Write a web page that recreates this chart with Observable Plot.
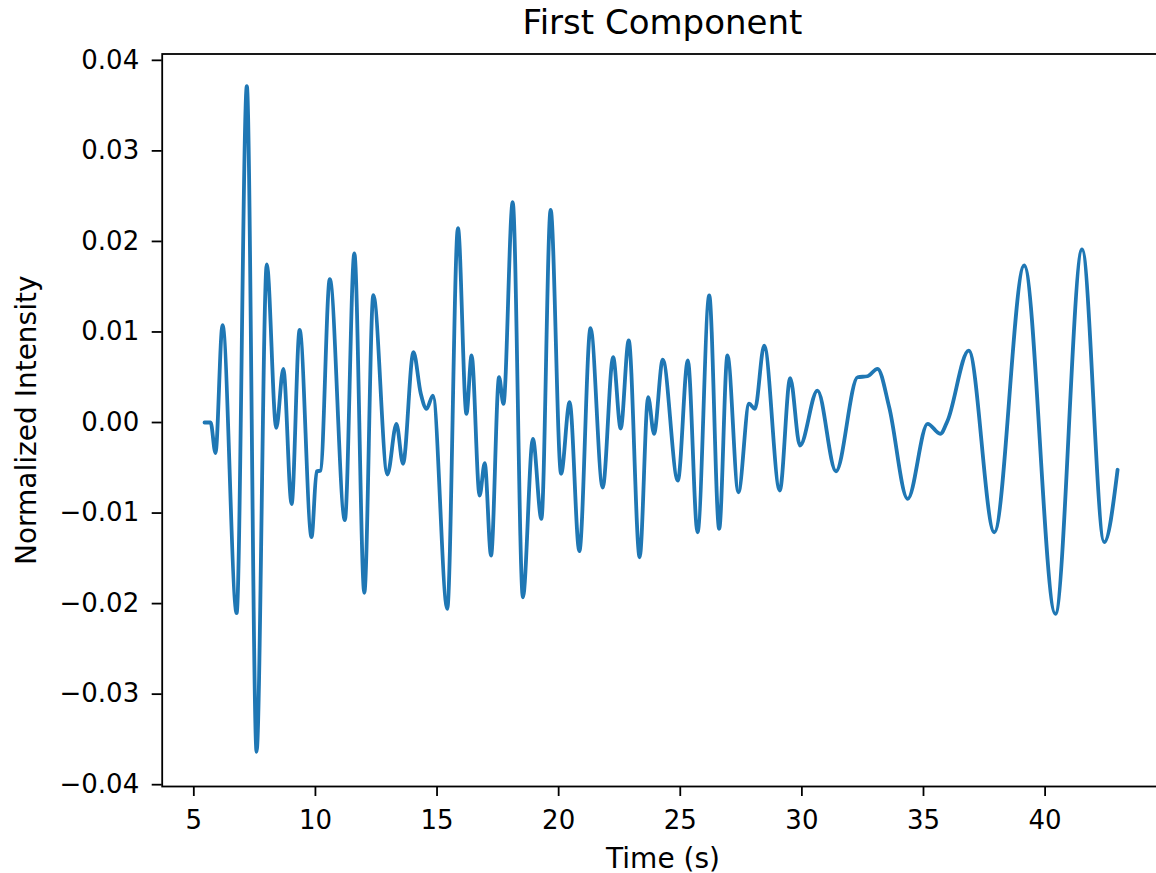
<!DOCTYPE html>
<html>
<head>
<meta charset="utf-8">
<script src="https://cdn.jsdelivr.net/npm/d3@7"></script>
<script src="https://cdn.jsdelivr.net/npm/@observablehq/plot@0.6"></script>
<style>
  html, body { margin: 0; padding: 0; background: #fff; overflow: hidden; }
  #wrap { width: 1156px; height: 873px; position: relative; font-family: "DejaVu Sans", sans-serif; }
  #title { height: 45px; line-height: 45px; font-size: 34px; color: #000;
           margin-left: 161.7px; width: 1001.6px; text-align: center; white-space: nowrap; }
  svg { display: block; }
</style>
</head>
<body>
<div id="wrap">
  <div id="title">First Component</div>
  <div id="chart"></div>
</div>
<script>
// Time (s) of the traced points along the curve
const time = [
  5.44, 5.69, 5.89, 6.18, 6.76, 7.18, 7.58, 8.00, 8.39, 8.68,
  9.02, 9.35, 9.84, 10.05, 10.21, 10.59, 11.21, 11.60, 12.01, 12.38,
  12.96, 13.33, 13.60, 14.03, 14.33, 14.57, 14.83, 15.42, 15.86, 16.21,
  16.42, 16.75, 16.96, 17.22, 17.55, 17.73, 18.11, 18.53, 18.94, 19.29,
  19.67, 20.10, 20.45, 20.85, 21.31, 21.81, 22.24, 22.55, 22.88, 23.33,
  23.68, 23.92, 24.28, 24.90, 25.31, 25.71, 26.19, 26.60, 26.94, 27.39,
  27.83, 28.07, 28.45, 29.09, 29.52, 29.92, 30.64, 31.40, 32.29, 32.70,
  33.11, 33.59, 34.35, 35.17, 35.69, 35.99, 36.86, 37.91, 39.14, 40.42,
  41.52, 42.43, 42.98
];
// Normalized intensity at those times
const intensity = [
  0.0000, 0.0000, -0.00338, 0.01076, -0.02105, 0.03716, -0.03636, 0.01745, -0.0006, 0.00593,
  -0.0090, 0.01022, -0.01265, -0.00541, -0.0053, 0.01584, -0.01077, 0.01868, -0.0188, 0.01407,
  -0.00574, -0.00015, -0.00456, 0.00776, 0.0032, 0.00151, 0.00298, -0.02058, 0.02146, 0.00096,
  0.0074, -0.00806, -0.0045, -0.01469, 0.0050, 0.00207, 0.02433, -0.0193, -0.0018, -0.01064,
  0.02349, -0.00567, 0.00224, -0.01421, 0.01042, -0.00718, 0.00721, -0.00066, 0.00906, -0.01488,
  0.0028, -0.00125, 0.00693, -0.00641, 0.00685, -0.01212, 0.01403, -0.01174, 0.0074, -0.0077,
  0.00207, 0.00151, 0.0085, -0.00751, 0.00489, -0.00254, 0.00353, -0.00538, 0.0050, 0.00511,
  0.00593, 0.00169, -0.00843, -0.00014, -0.00125, 0.0002, 0.00795, -0.01212, 0.01734, -0.02113,
  0.01911, -0.01322, -0.00522
];
const xTicks = [5, 10, 15, 20, 25, 30, 35, 40];
const yTicks = [-0.04, -0.03, -0.02, -0.01, 0.00, 0.01, 0.02, 0.03, 0.04];
const xDomain = [3.70, 44.88];
const yDomain = [-0.0402, 0.0407];
const xLabel = "Time (s)";
const yLabel = "Normalized Intensity";

const rows = time.map((t, i) => ({t, v: intensity[i]}));

const chart = Plot.plot({
  width: 1156,
  height: 828,
  marginLeft: 161.7,
  marginRight: -7.3,
  marginTop: 8.5,
  marginBottom: 87,
  style: {fontFamily: "DejaVu Sans", fontSize: "26px", color: "#000", background: "#fff", overflow: "hidden"},
  x: {domain: xDomain},
  y: {domain: yDomain},
  marks: [
    Plot.line(rows, {x: "t", y: "v", stroke: "#1f77b4", strokeWidth: 3.8, curve: "monotone-x"}),
    Plot.frame({stroke: "#000", strokeWidth: 1.8}),
    Plot.axisX({ticks: xTicks, tickFormat: d => String(d), tickSize: 10, tickPadding: 14,
                fontSize: 26, strokeWidth: 1.8, label: null}),
    Plot.axisY({ticks: yTicks, tickFormat: d3.format(".2f"), tickSize: 10, tickPadding: 13,
                fontSize: 26, strokeWidth: 1.8, label: null}),
    Plot.text([xLabel], {text: d => d, frameAnchor: "bottom", textAnchor: "middle", lineAnchor: "bottom", dy: 81,
                         fontSize: 28, fill: "#000"}),
    Plot.text([yLabel], {text: d => d, frameAnchor: "left", textAnchor: "middle", lineAnchor: "bottom", rotate: -90,
                         dx: -126.7, fontSize: 28, fill: "#000"})
  ]
});
document.getElementById("chart").appendChild(chart);
</script>
</body>
</html>
